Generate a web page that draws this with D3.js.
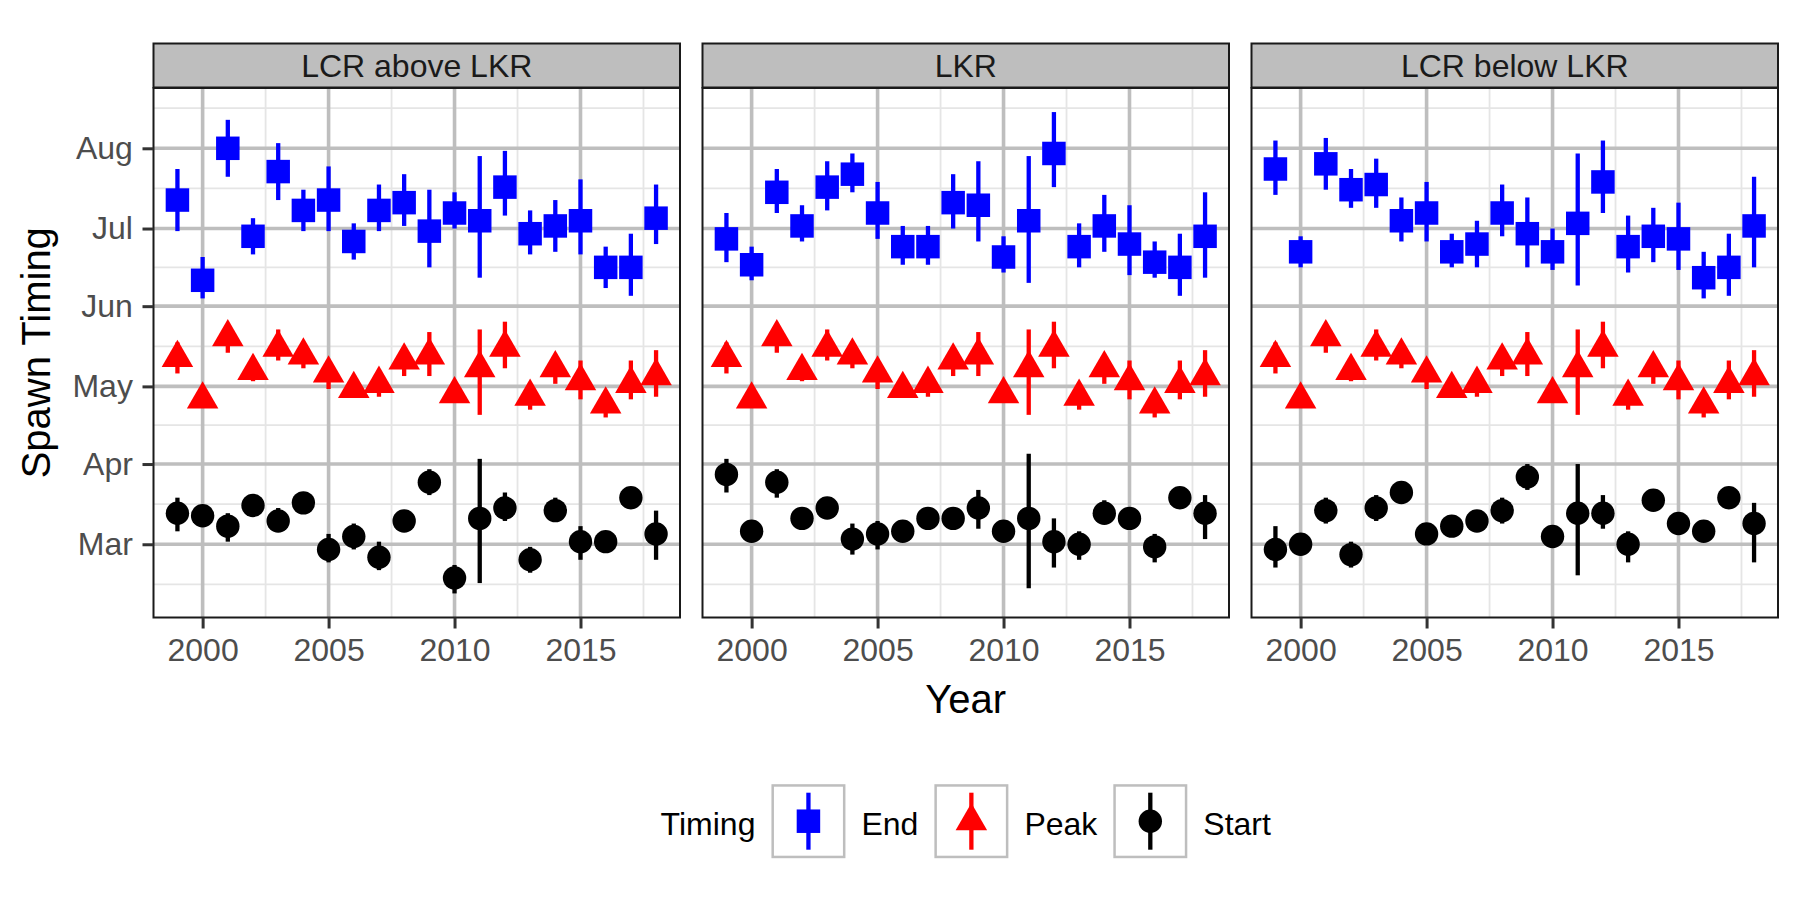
<!DOCTYPE html>
<html>
<head>
<meta charset="utf-8">
<script src="https://cdn.jsdelivr.net/npm/d3@7"></script>
<style>
  body { margin: 0; background: #fff; }
  svg { display: block; font-family: "Liberation Sans", Arial, Helvetica, sans-serif; }
</style>
</head>
<body>
<svg id="chart" width="1799" height="899"></svg>
<script>
// ---- data (day of year, 2019 calendar) ----
const years = [1999, 2000, 2001, 2002, 2003, 2004, 2005, 2006, 2007, 2008,
               2009, 2010, 2011, 2012, 2013, 2014, 2015, 2016, 2017, 2018]
const sites = ["LCR above LKR", "LKR", "LCR below LKR"]
const timings = ["End", "Peak", "Start"]
const yearTicks = [2000, 2005, 2010, 2015]
const monthTicks = ["Mar", "Apr", "May", "Jun", "Jul", "Aug"]

// LCR above LKR
const endAbove   = [193,162,213,179,204,189,193,177,189,192,181,188,185,198,180,183,185,167,167,186]
const endAboveLo = [181,155,202,172,193,181,181,170,181,183,167,182,163,187,172,173,172,159,156,176]
const endAboveHi = [205,171,224,186,215,197,206,184,199,203,197,196,210,212,189,193,201,175,180,199]
const startAbove   = [72,71,67,75,69,76,58,63,55,69,84,47,70,74,54,73,61,61,78,64]
const startAboveLo = [65,71,61,75,65,76,53,58,50,69,79,41,45,69,49,69,54,61,78,54]
const startAboveHi = [78,71,72,75,74,76,64,68,61,69,89,52,93,80,59,78,67,61,78,73]

// LKR
const endLkr   = [178,168,196,183,198,203,188,175,175,192,191,171,185,211,175,183,176,169,167,179]
const endLkrLo = [169,162,188,177,189,196,178,168,168,182,177,165,161,198,167,173,164,163,156,163]
const endLkrHi = [188,175,205,191,208,211,200,183,183,203,208,179,210,227,184,195,191,177,180,196]
const startLkr   = [87,65,84,70,74,62,64,65,70,70,74,65,70,61,60,72,70,59,78,72]
const startLkrLo = [80,65,78,70,74,56,58,65,70,70,66,65,43,51,54,68,70,53,78,62]
const startLkrHi = [93,65,89,70,74,68,69,65,70,70,81,65,95,70,65,77,70,64,78,79]

// LCR below LKR
const endBelow   = [205,173,207,197,199,185,188,173,176,188,180,173,184,200,175,179,178,163,167,183]
const endBelowLo = [195,167,197,190,190,177,177,167,167,179,167,166,160,188,165,169,166,155,156,167]
const endBelowHi = [216,179,217,205,209,194,200,180,185,199,194,182,211,216,187,190,192,173,180,202]
const startBelow   = [58,60,73,56,74,80,64,67,69,73,86,63,72,72,60,77,68,65,78,68]
const startBelowLo = [51,60,68,51,69,80,64,67,69,68,81,63,48,66,53,77,68,65,78,53]
const startBelowHi = [67,60,78,61,79,80,64,67,69,78,91,63,91,79,65,77,68,65,78,76]

// peak is the same in every panel
const peakDay = [132,116,140,127,136,133,126,120,122,131,133,118,128,136,117,128,123,114,122,125]
const peakLo  = [126,116,134,123,131,128,120,120,117,125,125,118,110,128,112,122,116,109,116,117]
const peakHi  = [138,116,144,130,143,137,129,120,124,136,142,118,143,146,119,132,131,116,131,135]

const siteData = {
  "LCR above LKR": {End: [endAbove, endAboveLo, endAboveHi], Peak: [peakDay, peakLo, peakHi], Start: [startAbove, startAboveLo, startAboveHi]},
  "LKR": {End: [endLkr, endLkrLo, endLkrHi], Peak: [peakDay, peakLo, peakHi], Start: [startLkr, startLkrLo, startLkrHi]},
  "LCR below LKR": {End: [endBelow, endBelowLo, endBelowHi], Peak: [peakDay, peakLo, peakHi], Start: [startBelow, startBelowLo, startBelowHi]}
}

const colors = {End: "#0000ff", Peak: "#ff0000", Start: "#000000"}
const shapes = {End: d3.symbolSquare, Peak: d3.symbolTriangle, Start: d3.symbolCircle}
const shapeSize = {End: 23.5 * 23.5, Peak: 430, Start: 430}

const day = d => new Date(Date.UTC(2019, 0, 1) + (d - 1) * 864e5)

let rows = []
sites.forEach(s => {
  timings.forEach(t => {
    const [mid, lo, hi] = siteData[s][t]
    years.forEach((yr, i) => {
      rows.push({site: s, timing: t, year: yr, mid: mid[i], lo: lo[i], hi: hi[i]})
    })
  })
})

// ---- layout ----
const panelX = [153.5, 702.5, 1251.5]
const panelW = 526.5
const plotTop = 88, plotBottom = 617.5, stripTop = 43.5
const small = 32, big = 40

const yrExt = d3.extent(years)
const xpad = (yrExt[1] - yrExt[0]) * 0.05
const x = d3.scaleLinear().domain([yrExt[0] - xpad, yrExt[1] + xpad]).range([0, panelW])

const dMin = d3.min(rows, r => r.lo), dMax = d3.max(rows, r => r.hi)
const ypad = (dMax - dMin) * 0.05
const y = d3.scaleUtc().domain([day(dMin - ypad), day(dMax + ypad)]).range([plotBottom, plotTop])

const monthDates = monthTicks.map(m => d3.utcParse("%b %Y")(m + " 2019"))

// minor breaks like ggplot: midpoints, extended by first gap
function minors(b, lim) {
  const bd = b[1] - b[0]
  const ext = [b[0] - bd, ...b, b[b.length - 1] + bd]
  const out = []
  for (let i = 0; i < ext.length - 1; i++) out.push((ext[i] + ext[i + 1]) / 2)
  return out.filter(v => v >= lim[0] && v <= lim[1])
}
const xMinor = minors(yearTicks, x.domain())
const yMinor = minors(monthDates.map(d => +d), y.domain().map(d => +d)).map(v => new Date(v))

const svg = d3.select("#chart")
svg.append("rect").attr("width", 1799).attr("height", 899).attr("fill", "#fff")

sites.forEach((s, pi) => {
  const g = svg.append("g").attr("transform", `translate(${panelX[pi]},0)`)

  // grid
  g.append("g").selectAll("line").data(xMinor).join("line")
    .attr("x1", d => x(d)).attr("x2", d => x(d)).attr("y1", plotTop).attr("y2", plotBottom)
    .attr("stroke", "#e5e5e5").attr("stroke-width", 1.8)
  g.append("g").selectAll("line").data(yMinor).join("line")
    .attr("x1", 0).attr("x2", panelW).attr("y1", d => y(d)).attr("y2", d => y(d))
    .attr("stroke", "#e5e5e5").attr("stroke-width", 1.8)
  g.append("g").selectAll("line").data(yearTicks).join("line")
    .attr("x1", d => x(d)).attr("x2", d => x(d)).attr("y1", plotTop).attr("y2", plotBottom)
    .attr("stroke", "#bebebe").attr("stroke-width", 3.6)
  g.append("g").selectAll("line").data(monthDates).join("line")
    .attr("x1", 0).attr("x2", panelW).attr("y1", d => y(d)).attr("y2", d => y(d))
    .attr("stroke", "#bebebe").attr("stroke-width", 3.6)

  const pr = rows.filter(r => r.site === s)

  // ranges then points
  g.append("g").selectAll("line").data(pr).join("line")
    .attr("x1", d => x(d.year)).attr("x2", d => x(d.year))
    .attr("y1", d => y(day(d.lo))).attr("y2", d => y(day(d.hi)))
    .attr("stroke", d => colors[d.timing]).attr("stroke-width", 4.3)

  g.append("g").selectAll("path").data(pr).join("path")
    .attr("transform", d => `translate(${x(d.year)},${y(day(d.mid))})`)
    .attr("d", d => d3.symbol(shapes[d.timing], shapeSize[d.timing])())
    .attr("fill", d => colors[d.timing])

  // panel border
  g.append("rect").attr("x", 0).attr("y", plotTop).attr("width", panelW).attr("height", plotBottom - plotTop)
    .attr("fill", "none").attr("stroke", "#1a1a1a").attr("stroke-width", 2)

  // strip
  g.append("rect").attr("x", 0).attr("y", stripTop).attr("width", panelW).attr("height", plotTop - stripTop - 0.5)
    .attr("fill", "#bebebe").attr("stroke", "#1a1a1a").attr("stroke-width", 2)
  g.append("text").attr("x", panelW / 2).attr("y", (stripTop + plotTop) / 2).attr("dy", "0.36em")
    .attr("text-anchor", "middle").attr("font-size", small).attr("fill", "#1a1a1a").text(s)

  // x axis
  const xa = g.append("g").attr("transform", `translate(0,${plotBottom})`)
    .call(d3.axisBottom(x).tickValues(yearTicks).tickFormat(d3.format("d")).tickSize(11).tickPadding(9.3))
  xa.select(".domain").remove()
  xa.selectAll("line").attr("stroke", "#333").attr("stroke-width", 3)
  xa.selectAll("text").attr("font-size", small).attr("fill", "#4d4d4d")
  xa.attr("font-family", null).attr("font-size", null)

  if (pi === 0) {
    const ya = g.append("g")
      .call(d3.axisLeft(y).tickValues(monthDates).tickFormat(d3.utcFormat("%b")).tickSize(11).tickPadding(9.6))
    ya.select(".domain").remove()
    ya.selectAll("line").attr("stroke", "#333").attr("stroke-width", 3)
    ya.selectAll("text").attr("font-size", small).attr("fill", "#4d4d4d")
    ya.attr("font-family", null).attr("font-size", null)
  }
})

// axis titles
const midX = (panelX[0] + panelX[2] + panelW) / 2
svg.append("text").attr("x", midX).attr("y", 712.5).attr("text-anchor", "middle")
  .attr("font-size", big).attr("fill", "#000").text("Year")
svg.append("text").attr("transform", `translate(50,${(plotTop + plotBottom) / 2}) rotate(-90)`)
  .attr("text-anchor", "middle").attr("font-size", big).attr("fill", "#000").text("Spawn Timing")

// legend
const leg = svg.append("g")
const keySize = 74, cy = 821.2, gap = 16
const title = leg.append("text").attr("y", cy + 13.5).attr("font-size", small).attr("fill", "#000").text("Timing")
let cx = title.node().getComputedTextLength() + gap
timings.forEach(t => {
  const k = leg.append("g").attr("transform", `translate(${cx},${cy - keySize / 2})`)
  k.append("rect").attr("x", 1.25).attr("y", 1.25).attr("width", keySize - 2.5).attr("height", keySize - 2.5)
    .attr("fill", "#fff").attr("stroke", "#bebebe").attr("stroke-width", 2.5)
  k.append("line").attr("x1", keySize / 2).attr("x2", keySize / 2).attr("y1", 8.5).attr("y2", keySize - 8.5)
    .attr("stroke", colors[t]).attr("stroke-width", 4.3)
  k.append("path").attr("transform", `translate(${keySize / 2},${keySize / 2})`)
    .attr("d", d3.symbol(shapes[t], shapeSize[t])()).attr("fill", colors[t])
  cx += keySize + gap
  const lab = leg.append("text").attr("x", cx).attr("y", cy + 13.5).attr("font-size", small).attr("fill", "#000").text(t)
  cx += lab.node().getComputedTextLength() + gap
})
const legW = cx - gap
leg.attr("transform", `translate(${midX - legW / 2},0)`)
</script>
</body>
</html>
